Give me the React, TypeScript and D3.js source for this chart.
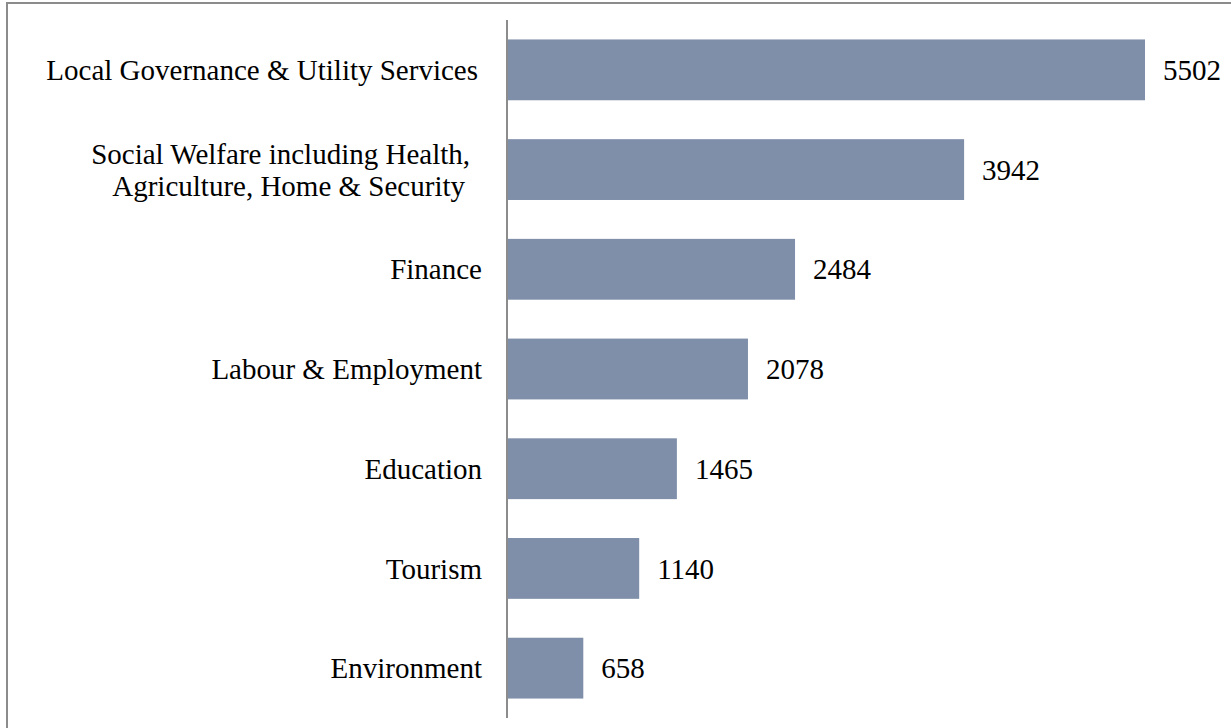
import { scaleBand, scaleLinear, max } from "d3";

const categories = [
  "Local Governance & Utility Services",
  "Social Welfare including Health, Agriculture, Home & Security",
  "Finance",
  "Labour & Employment",
  "Education",
  "Tourism",
  "Environment",
];
const values = [5502, 3942, 2484, 2078, 1465, 1140, 658];
// wrapped category labels, as drawn
const labelLines: string[][] = [
  ["Local Governance & Utility Services"],
  ["Social Welfare including Health,", "Agriculture, Home & Security"],
  ["Finance"],
  ["Labour & Employment"],
  ["Education"],
  ["Tourism"],
  ["Environment"],
];

const W = 1231;
const H = 728;
const axisX = 507;
const font = "'Liberation Serif', 'Times New Roman', serif";
const fs = 29;

export default function App() {
  const y = scaleBand<string>()
    .domain(categories)
    .range([20, 718])
    .paddingInner(0.39)
    .paddingOuter(0.195);
  const x = scaleLinear()
    .domain([0, max(values) ?? 1])
    .range([axisX, 1145]);

  return (
    <svg
      width={W}
      height={H}
      style={{ position: "absolute", left: 0, top: 0, background: "#fff" }}
    >
      {/* outer frame */}
      <rect x={7} y={3} width={W + 10} height={H + 10} fill="none" stroke="#8c8c8c" strokeWidth={2} />

      {categories.map((c, i) => {
        const cy = (y(c) ?? 0) + y.bandwidth() / 2;
        const lines = labelLines[i];
        const lh = 32;
        return (
          <g key={c}>
            <rect
              x={x(0)}
              y={y(c)}
              width={x(values[i]) - x(0)}
              height={y.bandwidth()}
              fill="#7f8fa9"
            />
            <text
              x={x(values[i]) + 18}
              y={cy}
              dy="0.35em"
              fontFamily={font}
              fontSize={fs}
              fill="#000"
            >
              {values[i]}
            </text>
            {lines.map((l, j) => (
              <text
                key={j}
                x={lines.length === 1 ? (i === 0 ? 478 : 482) : j === 0 ? 470 : 465}
                y={cy + (j - (lines.length - 1) / 2) * lh}
                dy="0.35em"
                textAnchor="end"
                fontFamily={font}
                fontSize={fs}
                fill="#000"
              >
                {l}
              </text>
            ))}
          </g>
        );
      })}

      {/* category axis */}
      <line x1={axisX} x2={axisX} y1={20} y2={718} stroke="#8c8c8c" strokeWidth={2} />
    </svg>
  );
}
